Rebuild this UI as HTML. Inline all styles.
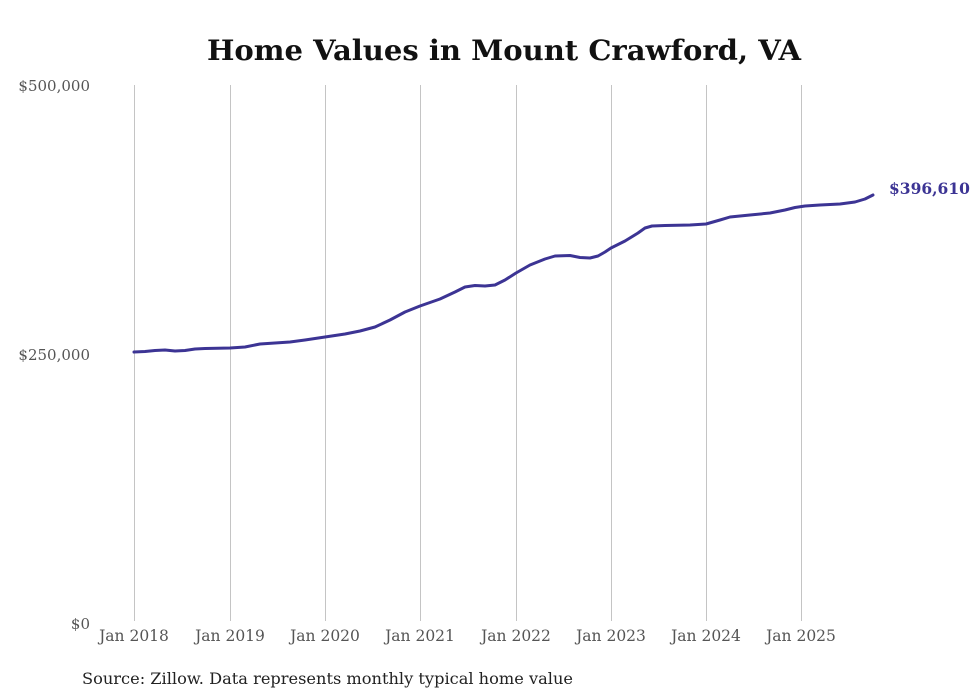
<!DOCTYPE html>
<html><head><meta charset="utf-8"><style>
body{margin:0;background:#fff;}
svg{display:block;font-family:"DejaVu Serif","Liberation Serif",serif;}
</style></head><body>
<svg width="980" height="699" viewBox="0 0 980 699">
<rect width="980" height="699" fill="#fff"/>
<text x="504" y="60" text-anchor="middle" font-size="28" font-weight="bold" fill="#111" textLength="594" lengthAdjust="spacingAndGlyphs">Home Values in Mount Crawford, VA</text>
<g stroke="#c4c4c4" stroke-width="1">
<line x1="134.5" y1="85" x2="134.5" y2="621"/>
<line x1="230.5" y1="85" x2="230.5" y2="621"/>
<line x1="325.5" y1="85" x2="325.5" y2="621"/>
<line x1="420.5" y1="85" x2="420.5" y2="621"/>
<line x1="516.5" y1="85" x2="516.5" y2="621"/>
<line x1="611.5" y1="85" x2="611.5" y2="621"/>
<line x1="706.5" y1="85" x2="706.5" y2="621"/>
<line x1="801.5" y1="85" x2="801.5" y2="621"/>
</g>
<g font-size="15" fill="#555" text-anchor="end">
<text x="90" y="91">$500,000</text>
<text x="90" y="360">$250,000</text>
<text x="90" y="629">$0</text>
</g>
<g font-size="15.5" fill="#555" text-anchor="middle">
<text x="134" y="641">Jan 2018</text>
<text x="230" y="641">Jan 2019</text>
<text x="325" y="641">Jan 2020</text>
<text x="420" y="641">Jan 2021</text>
<text x="516" y="641">Jan 2022</text>
<text x="611" y="641">Jan 2023</text>
<text x="706" y="641">Jan 2024</text>
<text x="801" y="641">Jan 2025</text>
</g>
<polyline fill="none" stroke="#3c3494" stroke-width="3" stroke-linejoin="round" stroke-linecap="round" points="134,352 145,351.5 155,350.5 165,350 175,351 185,350.5 195,349 205,348.5 230,348 245,347 260,344 290,342 305,340 325,337 345,334 360,331 375,327 390,320 405,312 420,306 440,299 455,292 465,287 475,285.5 485,286 495,285 505,280 516,273 530,265 545,259 555,256 570,255.5 580,257.5 590,258 598,256 605,252 611,248 625,241 638,233 645,228 652,226 665,225.5 690,225 706,224 720,220 730,217 750,215 770,213 785,210 795,207.5 805,206 820,205 840,204 855,202 865,199 873,195"/>
<text x="889" y="194" font-size="15.5" font-weight="bold" fill="#3c3494">$396,610</text>
<text x="82" y="684" font-size="16" fill="#222" textLength="491" lengthAdjust="spacingAndGlyphs">Source: Zillow. Data represents monthly typical home value</text>
</svg>
</body></html>
